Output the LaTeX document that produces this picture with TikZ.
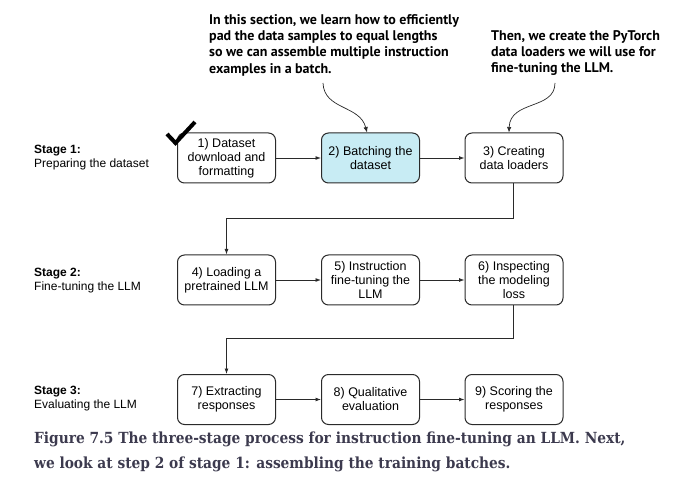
\documentclass[tikz,border=0pt]{standalone}
\usepackage{fontspec}
\setmainfont{Liberation Sans}
\newfontfamily\annfont{PT Sans}
\newfontfamily\capfont{DejaVu Serif Condensed}
\usetikzlibrary{arrows.meta}
\definecolor{boxline}{HTML}{2A2A2A}
\definecolor{batchfill}{HTML}{C8ECF4}
\definecolor{capcol}{HTML}{3C3A4E}
\tikzset{
  stepbox/.style={draw=boxline, line width=1pt, rounded corners=7pt, minimum width=98pt, minimum height=50pt, align=center, inner sep=0pt, font=\fontsize{12.5}{14}\selectfont},
  conn/.style={draw=boxline, line width=0.9pt, -{Latex[length=5.5pt,width=4pt]}},
  stagelbl/.style={anchor=north west, align=left, inner sep=0pt, font=\fontsize{12}{14}\selectfont},
  ann/.style={anchor=north west, align=left, inner sep=0pt, font=\annfont\bfseries\fontsize{14}{16.3}\selectfont},
  curvy/.style={draw=boxline, line width=0.7pt, -{Latex[length=5.5pt,width=4.5pt]}},
  captext/.style={anchor=base west, inner sep=0pt, text=capcol, font=\capfont\bfseries\fontsize{15.3}{25}\selectfont}
}
\begin{document}
\begin{tikzpicture}[x=1pt,y=-1pt]
\useasboundingbox (0,0) rectangle (694,481);
% boxes
\node[stepbox] (b1) at (226.5,158) {1) Dataset\\download and\\formatting};
\node[stepbox, fill=batchfill] (b2) at (370.5,158) {2) Batching the\\dataset};
\node[stepbox] (b3) at (514,158) {3) Creating\\data loaders};
\node[stepbox] (b4) at (226.5,280) {4) Loading a\\pretrained LLM};
\node[stepbox] (b5) at (370.5,280) {5) Instruction\\fine-tuning the\\LLM};
\node[stepbox] (b6) at (514,280) {6) Inspecting\\the modeling\\loss};
\node[stepbox] (b7) at (226.5,399.5) {7) Extracting\\responses};
\node[stepbox] (b8) at (370.5,399.5) {8) Qualitative\\evaluation};
\node[stepbox] (b9) at (514,399.5) {9) Scoring the\\responses};
% stage labels
\node[stagelbl] (s1) at (34,145) {\textbf{Stage 1:}\\Preparing the dataset};
\node[stagelbl] (s2) at (34,268) {\textbf{Stage 2:}\\Fine-tuning the LLM};
\node[stagelbl] (s3) at (34,386) {\textbf{Stage 3:}\\Evaluating the LLM};
% connectors
\draw[conn] (b1) -- (b2);
\draw[conn] (b2) -- (b3);
\draw[conn] (b4) -- (b5);
\draw[conn] (b5) -- (b6);
\draw[conn] (b7) -- (b8);
\draw[conn] (b8) -- (b9);
\coordinate (k1) at (513,218);
\coordinate (k2) at (513,338);
\draw[conn] (b3.south -| k1) -- (k1) -| (b4.north);
\draw[conn] (b6.south -| k2) -- (k2) -| (b7.north);
% check mark
\draw[black, line width=4pt, line join=miter] (167,134) -- (175.5,143) -- (195,122);
% annotations
\node[ann] (a1) at (209,14) {In this section, we learn how to efficiently\\pad the data samples to equal lengths\\so we can assemble multiple instruction\\examples in a batch.};
\node[ann] (a2) at (491,30) {Then, we create the PyTorch\\data loaders we will use for\\fine-tuning the LLM.};
\coordinate (c1) at (323,83);
\coordinate (c2) at (555,83);
\draw[curvy] (c1) .. controls (324,110) and (360,105) .. (b2.north -| 367,0);
\draw[curvy] (c2) .. controls (555,110) and (510,100) .. (b3.north -| 509,0);
% caption
\node[captext] (cap1) at (34,443) {Figure 7.5 The three-stage process for instruction fine-tuning an LLM. Next,};
\node[captext] (cap2) at (34,468) {we look at step 2 of stage 1: assembling the training batches.};
\end{tikzpicture}
\end{document}
